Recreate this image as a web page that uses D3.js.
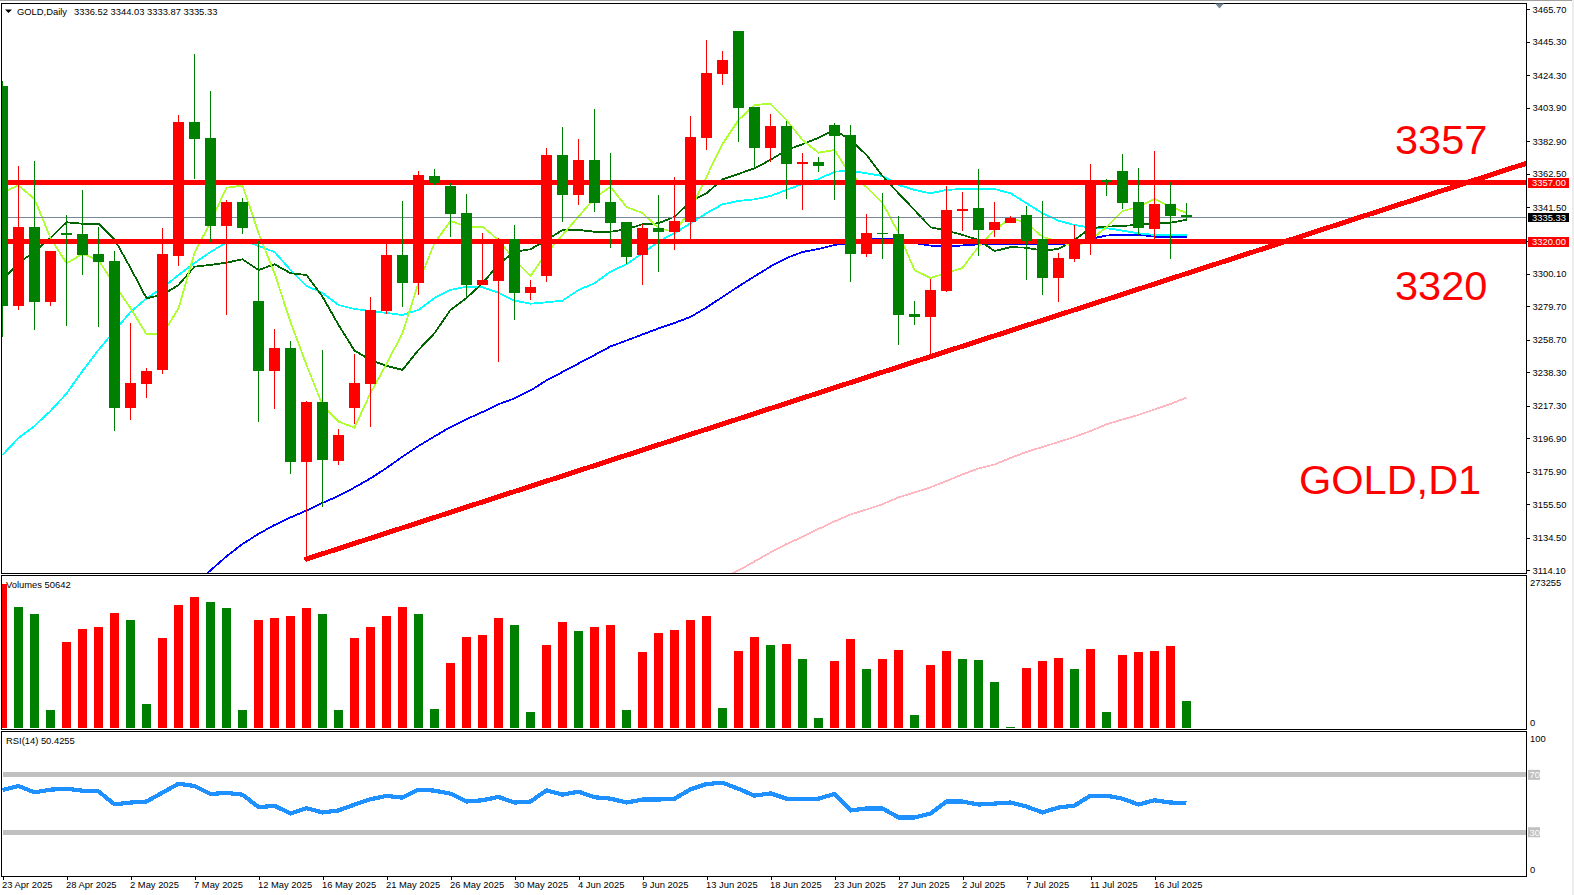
<!DOCTYPE html>
<html><head><meta charset="utf-8">
<script src="https://cdn.jsdelivr.net/npm/d3@7/dist/d3.min.js"></script>
<style>html,body{margin:0;padding:0;background:#fff;overflow:hidden}svg{display:block}
text{font-family:"Liberation Sans",Arial,sans-serif;fill:#000}</style></head><body>
<script>
const opens=[3417.6,3279.9,3329.3,3282.3,3325.5,3324.9,3312.3,3308.0,3215.8,3230.9,
3239.7,3311.1,3395.1,3385.0,3329.9,3344.9,3282.9,3239.0,3253.4,3182.0,
3219.6,3182.6,3215.8,3230.9,3276.6,3311.7,3294.2,3361.2,3355.0,3338.0,
3292.9,3295.4,3321.8,3287.9,3298.6,3374.4,3349.3,3371.3,3344.9,3332.4,
3311.7,3328.6,3326.1,3332.4,3385.0,3425.2,3452.1,3404.5,3378.8,3392.6,
3368.8,3370.0,3393.2,3386.9,3312.3,3325.8,3324.9,3274.7,3272.9,3289.2,
3339.3,3341.2,3327.4,3331.8,3336.8,3321.8,3297.3,3309.2,3321.8,3358.7,
3364.4,3344.9,3328.0,3343.7,3336.52];
const highs=[3420.8,3367.5,3370.4,3314.2,3336.8,3352.5,3329.5,3314.2,3269.1,3240.9,
3328.6,3399.5,3437.7,3414.5,3346.2,3347.4,3320.5,3265.3,3257.8,3220.0,
3252.2,3202.7,3249.7,3285.4,3319.2,3345.6,3364.4,3365.6,3356.8,3350.0,
3325.5,3322.4,3330.5,3296.1,3378.8,3391.9,3384.4,3403.2,3375.6,3332.4,
3331.2,3349.3,3360.6,3398.8,3446.5,3439.6,3452.1,3404.5,3400.1,3395.7,
3375.6,3373.1,3394.4,3393.2,3337.4,3350.6,3336.2,3282.9,3296.7,3355.0,
3351.2,3365.6,3344.9,3336.2,3342.4,3345.6,3313.0,3330.5,3368.8,3359.4,
3375.0,3366.2,3376.9,3357.5,3344.03];
const lows=[3260.1,3277.4,3264.7,3279.9,3267.4,3299.2,3266.8,3201.4,3208.3,3222.1,
3237.1,3304.8,3359.4,3319.9,3274.1,3324.9,3207.1,3215.2,3174.5,3120.6,
3154.0,3180.1,3205.8,3204.1,3274.8,3279.1,3286.7,3355.6,3323.0,3285.4,
3292.9,3244.9,3271.0,3283.5,3294.8,3332.6,3343.1,3338.7,3316.1,3306.1,
3292.9,3301.1,3314.9,3321.8,3377.5,3418.3,3382.5,3366.2,3370.0,3346.8,
3339.9,3363.9,3346.2,3294.8,3310.5,3309.2,3255.3,3267.9,3249.0,3288.5,
3326.8,3311.1,3323.0,3331.8,3296.1,3286.7,3282.3,3307.3,3311.7,3348.7,
3340.6,3324.3,3321.8,3309.2,3333.87];
const closes=[3279.9,3329.3,3282.3,3314.2,3324.3,3311.7,3307.3,3215.8,3231.5,3239.0,
3312.3,3395.1,3384.4,3329.9,3344.9,3328.6,3239.0,3253.4,3182.0,3219.6,
3183.3,3198.9,3231.5,3277.3,3311.7,3294.2,3361.9,3356.8,3337.4,3292.9,
3296.1,3321.1,3287.9,3291.7,3374.4,3349.3,3371.3,3344.3,3331.8,3310.5,
3328.6,3326.1,3333.0,3385.7,3425.8,3433.9,3403.9,3378.8,3392.6,3368.8,
3370.3,3367.5,3386.3,3312.3,3325.5,3324.7,3274.1,3272.9,3289.8,3339.9,
3340.7,3327.4,3332.4,3334.9,3320.5,3297.3,3309.8,3321.8,3358.7,3357.7,
3344.3,3328.6,3343.7,3336.2,3335.33];
const volumes=[273255,229600,216300,34200,163200,187900,191600,218200,204900,45500,
170800,233400,248600,239100,227700,34200,204900,208700,212500,227700,
216300,34200,170800,191600,212500,229600,216300,36100,123300,172700,
176500,208700,195400,30400,157500,201100,184100,191600,195400,34200,
144200,180300,186000,204900,212500,37900,146100,172700,157500,159400,
130900,19000,127100,168900,111900,130900,148000,24700,119500,146100,
130900,129000,87300,1900,113900,127100,132800,111900,149900,30400,
138500,144200,146100,155600,50642];
const maFast=[3351.2,3355.2,3346.8,3322.4,3306.5,3312.3,3308.6,3292.9,3278.5,3262.0,
3262.0,3278.3,3313.0,3332.4,3353.9,3355.2,3325.5,3300.4,3269.7,3242.8,
3217.7,3207.3,3203.5,3225.2,3243.4,3262.8,3294.2,3319.2,3333.0,3329.5,
3329.5,3321.1,3308.6,3298.6,3313.0,3324.3,3335.7,3347.4,3354.5,3341.8,
3338.0,3328.6,3326.1,3339.9,3360.8,3381.3,3396.3,3405.7,3406.5,3396.3,
3383.8,3375.8,3377.5,3361.9,3354.3,3344.3,3325.5,3302.3,3297.3,3300.4,
3303.6,3316.9,3327.4,3334.9,3331.8,3323.0,3320.1,3316.9,3321.1,3329.3,
3339.3,3341.8,3346.8,3342.0,3338.0];
const maMid=[3296.1,3306.7,3313.8,3322.4,3332.2,3331.3,3331.3,3321.6,3303.6,3284.6,
3286.7,3292.9,3304.4,3305.5,3306.9,3309.0,3302.3,3305.9,3300.3,3299.2,
3285.6,3267.9,3251.8,3245.9,3242.2,3239.7,3252.2,3262.7,3277.3,3284.8,
3294.0,3305.9,3313.8,3315.3,3321.1,3327.4,3327.4,3326.3,3326.3,3327.8,
3331.0,3331.6,3335.7,3345.1,3350.4,3359.2,3362.5,3366.1,3371.3,3377.5,
3381.1,3385.2,3390.1,3383.8,3374.4,3361.2,3350.4,3339.9,3329.1,3327.0,
3324.3,3321.1,3314.2,3316.6,3316.3,3314.4,3315.5,3321.1,3328.5,3329.5,
3329.9,3330.7,3331.6,3332.0,3333.7];
const maSlow=[3186.4,3197.0,3204.6,3214.0,3224.9,3239.0,3252.2,3264.1,3276.0,3284.5,
3291.0,3299.2,3306.7,3313.6,3319.6,3321.1,3317.4,3313.6,3302.3,3292.3,
3287.9,3280.4,3277.9,3276.6,3275.4,3274.1,3277.3,3284.8,3289.8,3291.9,
3291.5,3288.1,3283.1,3281.2,3282.1,3283.1,3289.8,3294.0,3301.3,3305.9,
3312.8,3320.1,3325.3,3331.6,3337.9,3343.5,3345.6,3346.6,3348.7,3352.5,
3356.2,3359.2,3363.9,3364.6,3362.9,3361.2,3355.6,3352.5,3350.4,3352.5,
3353.1,3353.3,3353.1,3350.4,3344.1,3337.9,3333.2,3330.5,3328.8,3328.5,
3327.0,3325.3,3324.3,3324.3,3324.3];
const ma100Start=12;
const ma100=[3105.5,3114.0,3122.8,3130.6,3136.9,3142.5,3147.2,3151.6,
3156.3,3160.7,3166.0,3171.7,3178.2,3185.3,3192.0,3198.0,3203.9,3208.8,
3213.3,3218.2,3221.8,3226.8,3233.1,3238.4,3243.7,3249.0,3254.4,3258.1,
3261.9,3265.7,3269.1,3272.9,3278.8,3285.4,3292.0,3298.3,3304.5,3309.8,
3313.6,3315.5,3318.0,3319.2,3321.8,3321.9,3321.4,3319.2,3317.6,3317.1,
3317.7,3318.4,3318.4,3318.4,3318.4,3318.4,3318.4,3318.9,3321.8,3323.9,
3324.4,3324.4,3323.2,3323.2,3323.2];
const ma200Start=45;
const ma200=[3109.3,3114.0,3119.6,3125.3,3130.6,
3135.0,3140.0,3144.7,3149.1,3152.2,3155.5,3159.8,3162.9,3166.1,3170.1,
3174.2,3177.9,3180.4,3184.5,3188.3,3191.4,3194.5,3197.7,3201.4,3205.6,
3208.6,3211.5,3214.9,3218.3,3222.3];
const rsi=[59.4,62.2,57.8,59.7,60.3,59.0,58.5,49.5,50.7,51.4,
57.6,63.8,62.2,56.7,57.4,56.2,47.5,48.4,43.1,46.8,
43.8,45.2,49.3,53.0,55.3,54.1,59.7,59.0,56.9,51.4,
52.3,54.6,50.7,51.4,59.2,56.2,58.3,54.4,53.4,50.7,
52.8,52.8,53.4,59.9,63.6,64.5,60.3,55.5,57.1,53.4,
53.4,53.4,56.7,45.2,46.6,46.6,40.3,40.3,43.1,51.4,
51.4,49.3,50.0,50.7,47.9,43.8,47.2,48.6,55.5,55.5,
53.4,49.3,52.3,50.7,50.4];
const priceTicks=[3465.7,3445.3,3424.3,3403.9,3382.9,3362.5,3341.5,3320.5,3300.1,3279.7,3258.7,3238.3,3217.3,3196.9,3175.9,3155.5,3134.5,3114.1];
const dateLabels=["23 Apr 2025","28 Apr 2025","2 May 2025","7 May 2025","12 May 2025","16 May 2025","21 May 2025","26 May 2025","30 May 2025","4 Jun 2025","9 Jun 2025","13 Jun 2025","18 Jun 2025","23 Jun 2025","27 Jun 2025","2 Jul 2025","7 Jul 2025","11 Jul 2025","16 Jul 2025"];
const hLevels=[3357,3320];
const bidPrice=3335.33;
const trendBars=[19,95.25];
const trendPrices=[3121.2,3369.2];
const rsiLevels=[70,30];

const W=1574,H=895,L=2,R=1526;
const RED="#ff0000",GREEN="#008000";
const x=d3.scaleLinear().domain([0,95.25]).range([2.5,1526.5]);
const y=d3.scaleLinear().domain([3465.7,3114.1]).range([9.3,570.3]);
const yv=d3.scaleLinear().domain([0,273255]).range([728,584]);
const yr=d3.scaleLinear().domain([0,100]).range([875.3,731.8]);
const svg=d3.select("body").append("svg").attr("width",W).attr("height",H);
const defs=svg.append("defs");
function clip(id,y0,y1){defs.append("clipPath").attr("id",id).append("rect").attr("x",L).attr("y",y0).attr("width",R-L).attr("height",y1-y0);}
clip("cm",4,573);clip("cv",576,729);clip("cr",732,876);

// window edges
svg.append("rect").attr("x",0).attr("y",0).attr("width",W).attr("height",1).attr("fill","#a0a0a0");
svg.append("rect").attr("x",1572).attr("y",0).attr("width",2).attr("height",H).attr("fill","#ececec");

const main=svg.append("g").attr("clip-path","url(#cm)").attr("shape-rendering","crispEdges");
const line=d3.line().x(d=>x(d[0])).y(d=>y(d[1]));
function ma(vals,start,col){main.append("path").attr("d",line(vals.map((v,i)=>[i+start,v]))).attr("fill","none").attr("stroke",col).attr("stroke-width",1.8);}
ma(ma200,ma200Start,"#ffb6c1");
ma(ma100,ma100Start,"#0000ff");
ma(maSlow,0,"#00ffff");
ma(maMid,0,"#006400");
ma(maFast,0,"#adff2f");
main.append("line").attr("x1",L).attr("x2",R).attr("y1",y(bidPrice)).attr("y2",y(bidPrice)).attr("stroke","#778899").attr("stroke-width",1);
main.selectAll(".h").data(hLevels).join("line").attr("x1",L).attr("x2",R).attr("y1",d=>y(d)).attr("y2",d=>y(d)).attr("stroke",RED).attr("stroke-width",5);
main.append("path").attr("d",line(trendBars.map((b,i)=>[b,trendPrices[i]]))).attr("fill","none").attr("stroke",RED).attr("stroke-width",5).attr("stroke-linecap","round");

// candles
const candles=main.selectAll(".c").data(opens.map((o,i)=>({i,o,h:highs[i],l:lows[i],c:closes[i]}))).join("g");
const col=d=>d.c>d.o?RED:GREEN;
candles.append("rect").attr("x",d=>x(d.i)-0.5).attr("width",1).attr("y",d=>y(d.h)).attr("height",d=>y(d.l)-y(d.h)).attr("fill",col);
candles.append("rect").attr("x",d=>x(d.i)-5.5).attr("width",11)
 .attr("y",d=>y(Math.max(d.o,d.c))).attr("height",d=>Math.max(1.5,y(Math.min(d.o,d.c))-y(Math.max(d.o,d.c)))).attr("fill",col);

// volumes
svg.append("g").attr("clip-path","url(#cv)").attr("shape-rendering","crispEdges")
 .selectAll("rect").data(volumes).join("rect")
 .attr("x",(d,i)=>x(i)-4.5).attr("width",9).attr("y",d=>yv(d)).attr("height",d=>yv(0)-yv(d))
 .attr("fill",(d,i)=>i===0||d>volumes[i-1]?RED:GREEN);

// RSI
const rg=svg.append("g").attr("clip-path","url(#cr)").attr("shape-rendering","crispEdges");
rg.selectAll("line").data(rsiLevels).join("line").attr("x1",L+1).attr("x2",R).attr("y1",d=>yr(d)).attr("y2",d=>yr(d)).attr("stroke","#c0c0c0").attr("stroke-width",5);
rg.append("path").attr("d",d3.line().x((d,i)=>x(i)).y(d=>yr(d))(rsi)).attr("fill","none").attr("stroke","#1e90ff").attr("stroke-width",4.2).attr("stroke-linejoin","round");

// frames
const fr=svg.append("g").attr("fill","none").attr("stroke","#000").attr("stroke-width",1).attr("shape-rendering","crispEdges");
[[3,573],[575,729],[731,876]].forEach(([a,b])=>fr.append("rect").attr("x",1.5).attr("y",a+.5).attr("width",1525).attr("height",b-a));

// axes
const FS=9.4;
function styleAxis(g){g.select(".domain").remove();g.selectAll("text").attr("font-size",FS).style("font-family",'"Liberation Sans",Arial,sans-serif').attr("fill","#000");g.attr("font-family",null);g.selectAll("line").attr("shape-rendering","crispEdges").attr("stroke","#000");}
svg.append("g").attr("transform",`translate(${R+.5},0)`)
 .call(d3.axisRight(y).tickValues(priceTicks).tickSize(3).tickPadding(3).tickFormat(d3.format(".2f"))).call(styleAxis);
const dateBars=dateLabels.map((_,i)=>i*4);
const xa=svg.append("g").attr("transform","translate(0,876.5)")
 .call(d3.axisBottom(x).tickValues(dateBars).tickSize(3).tickFormat((d,i)=>dateLabels[i])).call(styleAxis);
xa.selectAll("text").attr("text-anchor","start").attr("dx",-1).attr("y",5).attr("dy","0.71em");

function label(t,xp,yp,fs,fill,anchor){return svg.append("text").attr("x",xp).attr("y",yp).attr("font-size",fs).style("fill",fill||"#000").attr("text-anchor",anchor||"start").text(t);}
// right-side volume / RSI scale
label("273255",1530,585.5,FS);label("0",1530,726,FS);
label("100",1530,741.5,FS);label("0",1530,872.5,FS);
rsiLevels.forEach(v=>{svg.append("rect").attr("x",1528).attr("y",yr(v)-5).attr("width",12).attr("height",10).attr("fill","#c0c0c0");
 label(v,1529.5,yr(v)+3.3,FS,"#fff");});

// price tags
[[hLevels[0],RED],[bidPrice,"#000"],[hLevels[1],RED]].forEach(([p,c])=>{
 svg.append("rect").attr("x",1528).attr("y",y(p)-4.7).attr("width",41).attr("height",9.5).attr("fill",c).attr("shape-rendering","crispEdges");
 label(p.toFixed(2),1532,y(p)+3.3,FS,"#fff");});

// header & legends
svg.append("path").attr("d",d3.line()([[5,9.5],[12,9.5],[8.5,13]])+"Z").attr("fill","#000");
svg.append("path").attr("d",d3.line()([[1215,3.5],[1224,3.5],[1219.5,8.5]])+"Z").attr("fill","#778899");
label("GOLD,Daily",17,15,FS);
label([opens[74],highs[74],lows[74],closes[74]].map(v=>v.toFixed(2)).join(" "),74,15,FS);
label("Volumes 50642",6,588,FS);
label("RSI(14) 50.4255",6,744,FS);
// big annotations
label(hLevels[0],1395,154,41.5,RED);
label(hLevels[1],1395,299.5,41.5,RED);
label("GOLD,D1",1299,493.5,41.5,RED);
</script></body></html>
